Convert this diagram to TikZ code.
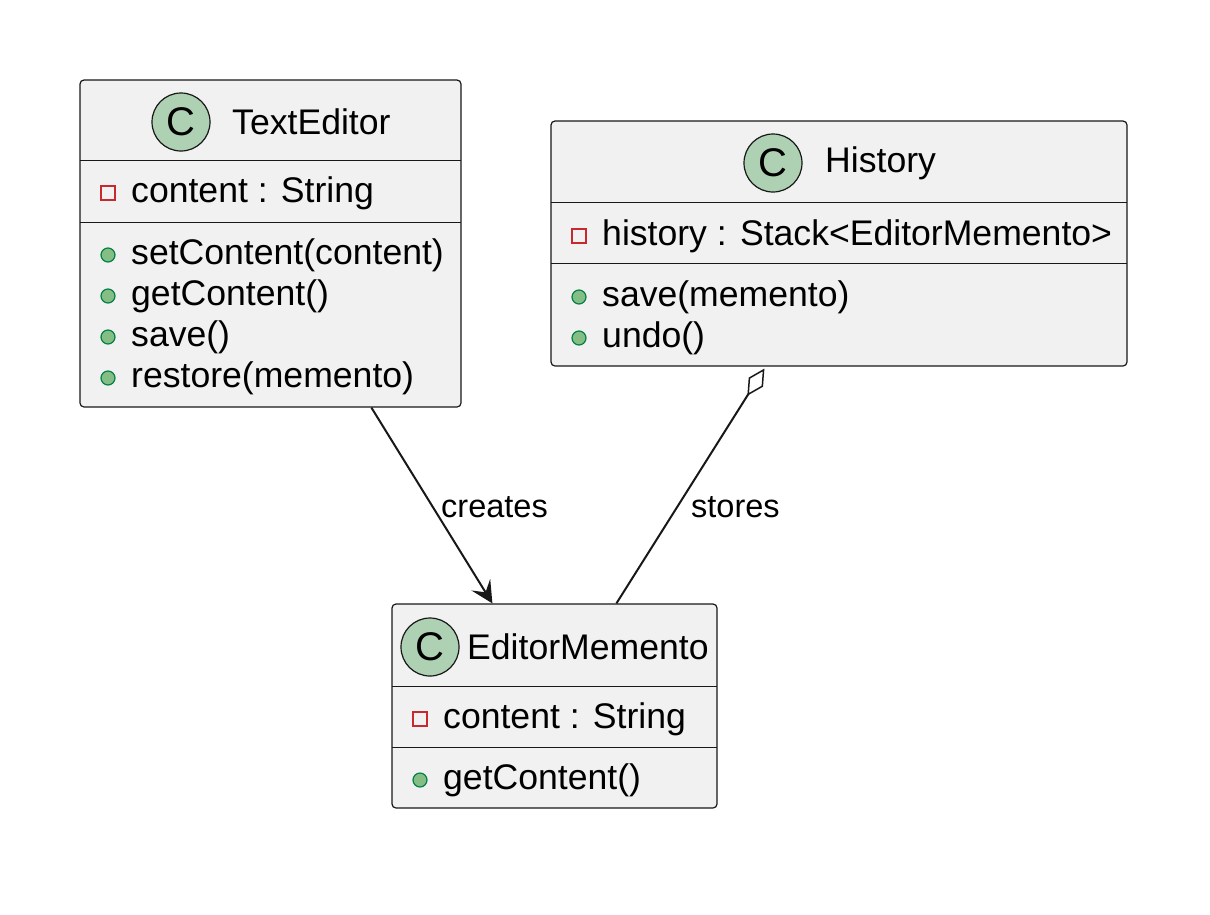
\documentclass[tikz,border=0pt]{standalone}
\usepackage{fontspec}
\setmainfont{Liberation Sans}
\usetikzlibrary{arrows.meta,calc}
\definecolor{boxfill}{HTML}{F1F1F1}
\definecolor{edge}{HTML}{181818}
\definecolor{cfill}{HTML}{ADD1B2}
\definecolor{pubfill}{HTML}{84BE84}
\definecolor{publine}{HTML}{038048}
\definecolor{privline}{HTML}{C82930}
\tikzset{
  x=1pt,y=-1pt,
  box/.style={draw=edge,fill=boxfill,rounded corners=4pt,line width=1.2pt,inner sep=0pt},
  sep/.style={draw=edge,line width=1pt},
  cls/.style={circle,draw=edge,fill=cfill,line width=1.2pt,minimum size=58pt,inner sep=0pt,font=\fontsize{40}{40}\selectfont},
  txt/.style={anchor=west,inner sep=0pt,font=\fontsize{35.6}{40}\selectfont},
  lbl/.style={inner sep=0pt,font=\fontsize{32.5}{38}\selectfont},
  priv/.style={draw=privline,line width=1.2pt,fill=none,minimum size=14pt,inner sep=0pt},
  pub/.style={circle,draw=publine,fill=pubfill,line width=1.2pt,minimum size=14pt,inner sep=0pt},
  conn/.style={draw=edge,line width=2pt}
}
\begin{document}
\begin{tikzpicture}
\useasboundingbox (0,0) rectangle (1210,914);
% TextEditor
\node[box,minimum width=381pt,minimum height=327pt] (te) at (270.5,243.5) {};
\node[cls] (tec) at (181,122) {C};
\node[txt] (tet) at (232,122) {TextEditor};
\draw[sep] (80,160) -- (461,160);
\draw[sep] (80,222) -- (461,222);
\node[priv] (tei1) at (108,193) {}; \node[txt] (tea1) at (131,193) {content : String};
\node[pub] (tei2) at (108,255) {}; \node[txt] (tem1) at (131,255) {setContent(content)};
\node[pub] (tei3) at (108,296) {}; \node[txt] (tem2) at (131,296) {getContent()};
\node[pub] (tei4) at (108,337) {}; \node[txt] (tem3) at (131,337) {save()};
\node[pub] (tei5) at (108,378) {}; \node[txt] (tem4) at (131,378) {restore(memento)};
% History
\node[box,minimum width=576pt,minimum height=245pt] (hi) at (839,243.5) {};
\node[cls] (hic) at (773,163) {C};
\node[txt] (hit) at (825,163) {History};
\draw[sep] (551,202) -- (1127,202);
\draw[sep] (551,263) -- (1127,263);
\node[priv] (hii1) at (579,236) {}; \node[txt] (hia1) at (602,236) {history : Stack<EditorMemento>};
\node[pub] (hii2) at (579,297) {}; \node[txt] (him1) at (602,297) {save(memento)};
\node[pub] (hii3) at (579,338) {}; \node[txt] (him2) at (602,338) {undo()};
% EditorMemento
\node[box,minimum width=325pt,minimum height=204pt] (em) at (554.5,706) {};
\node[cls] (emc) at (430,647) {C};
\node[txt] (emt) at (467,647) {EditorMemento};
\draw[sep] (392,686) -- (717,686);
\draw[sep] (392,747) -- (717,747);
\node[priv] (emi1) at (420,719) {}; \node[txt] (ema1) at (443,719) {content : String};
\node[pub] (emi2) at (420,780) {}; \node[txt] (emm1) at (443,780) {getContent()};
% connectors
\coordinate (a1) at ($(te.south west)+(292,0)$);
\coordinate (a2) at ($(em.north west)+(101,0)$);
\draw[conn,-{Stealth[length=22pt,width=22pt,inset=9pt]}] (a1) -- (a2);
\node[lbl,anchor=west] (cr) at (441,507) {creates};
\coordinate (b1) at ($(em.north west)+(225,0)$);
\coordinate (b2) at ($(hi.south west)+(214,2)$);
\draw[conn,-{Diamond[open,length=32pt,width=17pt,line width=1.5pt]}] (b1) -- (b2);
\node[lbl,anchor=west] (st) at (691,507) {stores};
\end{tikzpicture}
\end{document}
